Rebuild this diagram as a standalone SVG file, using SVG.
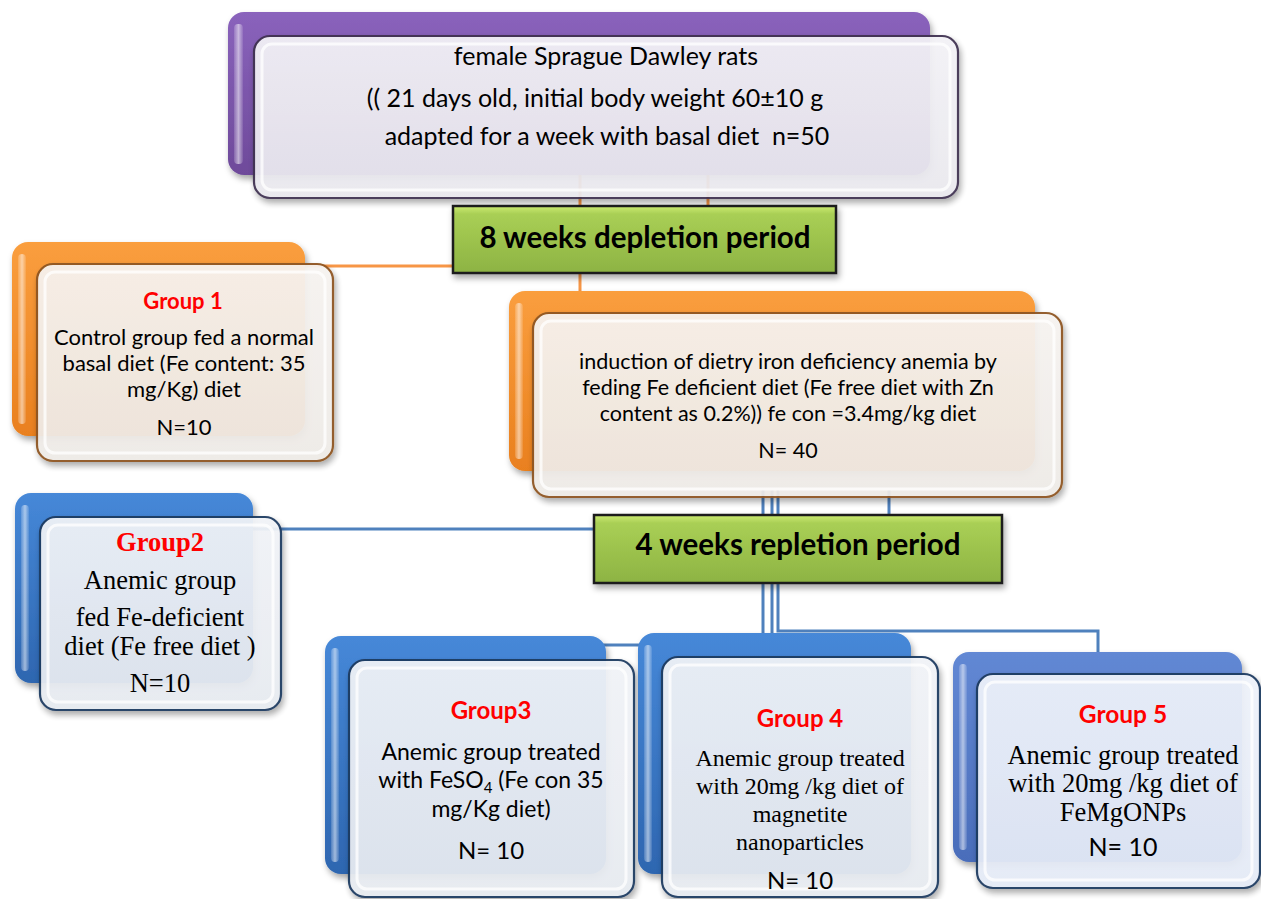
<svg xmlns="http://www.w3.org/2000/svg" width="1261" height="899" viewBox="0 0 1261 899">
<defs>
<linearGradient id="gPurple" x1="0" y1="0" x2="0" y2="1"><stop offset="0" stop-color="#8A63BC"/><stop offset="1" stop-color="#6E4A9A"/></linearGradient>
<linearGradient id="gOrange" x1="0" y1="0" x2="0" y2="1"><stop offset="0" stop-color="#FA9E3E"/><stop offset="1" stop-color="#E9801F"/></linearGradient>
<linearGradient id="gBlue" x1="0" y1="0" x2="0" y2="1"><stop offset="0" stop-color="#4688D8"/><stop offset="1" stop-color="#2E66B0"/></linearGradient>
<linearGradient id="gBlue2" x1="0" y1="0" x2="0" y2="1"><stop offset="0" stop-color="#6288D4"/><stop offset="1" stop-color="#4A6DBA"/></linearGradient>
<linearGradient id="gGreen" x1="0" y1="0" x2="0" y2="1"><stop offset="0" stop-color="#CDEB72"/><stop offset="0.12" stop-color="#A9CF55"/><stop offset="1" stop-color="#8DB343"/></linearGradient>
<linearGradient id="gFrontP" x1="0" y1="0" x2="0" y2="1"><stop offset="0" stop-color="#F3F2F6"/><stop offset="1" stop-color="#E9E8EE"/></linearGradient>
<linearGradient id="gFrontO" x1="0" y1="0" x2="0" y2="1"><stop offset="0" stop-color="#F6F3F0"/><stop offset="1" stop-color="#EEEAE6"/></linearGradient>
<linearGradient id="gFrontB" x1="0" y1="0" x2="0" y2="1"><stop offset="0" stop-color="#F1F3F7"/><stop offset="1" stop-color="#E6EAF0"/></linearGradient>
<linearGradient id="gFrontB2" x1="0" y1="0" x2="0" y2="1"><stop offset="0" stop-color="#EEF2FA"/><stop offset="1" stop-color="#E4EAF6"/></linearGradient>
<linearGradient id="gHi" x1="0" y1="0" x2="1" y2="0"><stop offset="0" stop-color="#FFFFFF" stop-opacity="0.15"/><stop offset="0.5" stop-color="#FFFFFF" stop-opacity="0.55"/><stop offset="1" stop-color="#FFFFFF" stop-opacity="0.1"/></linearGradient>
<filter id="sh" x="-10%" y="-10%" width="125%" height="130%"><feDropShadow dx="2" dy="4" stdDeviation="3" flood-color="#000" flood-opacity="0.35"/></filter>
</defs>
<style>
.back{filter:url(#sh)}
.hi{fill:url(#gHi)}
.front{stroke-width:2.2;filter:url(#sh);opacity:0.94}
.inner{fill:none;stroke:#FFFFFF;stroke-width:3;stroke-opacity:0.75}
.fp{fill:url(#gFrontP);stroke:#3F3151}
.fo{fill:url(#gFrontO);stroke:#8E5520}
.fb{fill:url(#gFrontB);stroke:#1F3A60}
.fb2{fill:url(#gFrontB2);stroke:#1F3A60}
.green{fill:url(#gGreen);stroke:#1A1A1A;stroke-width:2.5;filter:url(#sh)}
.oc{stroke:#F79646;stroke-width:3;fill:none}
.bc{stroke:#4F81BD;stroke-width:3;fill:none}
.s{font-family:Lato,"Liberation Sans",sans-serif;fill:#000;text-anchor:middle}
.r{font-family:"Liberation Serif","DejaVu Serif",serif;fill:#000;text-anchor:middle}
.lab{font-family:Lato,"Liberation Sans",sans-serif;font-weight:bold;fill:#FF0000;text-anchor:middle}
.labr{font-family:"Liberation Serif",serif;font-weight:bold;fill:#FF0000;text-anchor:middle}
.gt{font-family:Lato,"Liberation Sans",sans-serif;font-weight:bold;font-size:29.5px;fill:#000;text-anchor:middle}
</style>

<g id="connectors">
<line class="oc" x1="580" y1="175" x2="580" y2="292"/>
<line class="oc" x1="708" y1="175" x2="708" y2="207"/>
<line class="oc" x1="180" y1="266" x2="454" y2="266"/>
<line class="bc" x1="200" y1="529" x2="595" y2="529"/>
<line class="bc" x1="763" y1="490" x2="763" y2="634"/>
<polyline class="bc" points="772,490 772,645 466,645 466,637"/>
<polyline class="bc" points="778,490 778,631 1098,631 1098,653"/>
<line class="bc" x1="889" y1="490" x2="889" y2="516"/>
</g>

<g id="start">
<rect class="back" x="228" y="12" width="702" height="163" rx="16" fill="url(#gPurple)"/>
<rect class="hi" x="234" y="24" width="9" height="140" rx="4"/>
<rect class="front fp" x="254" y="36" width="704" height="162" rx="16"/>
<rect class="inner" x="262" y="44" width="688" height="146" rx="10"/>
<text class="s" font-size="25" x="606" y="65">female Sprague Dawley rats</text>
<text class="s" font-size="25" x="595" y="107">(( 21 days old, initial body weight 60±10 g</text>
<text class="s" font-size="25" x="607" y="145">adapted for a week with basal diet&#160; n=50</text>
</g>

<g id="depletion">
<rect class="green" x="453" y="206" width="383" height="67"/>
<text class="gt" x="645" y="248">8 weeks depletion period</text>
</g>

<g id="group1">
<rect class="back" x="12" y="242" width="293" height="194" rx="16" fill="url(#gOrange)"/>
<rect class="hi" x="18" y="254" width="8" height="170" rx="4"/>
<rect class="front fo" x="37" y="264" width="296" height="197" rx="16"/>
<rect class="inner" x="45" y="272" width="280" height="181" rx="10"/>
<text class="lab" font-size="22" x="183" y="309">Group 1</text>
<text class="s" font-size="22" x="184" y="345">Control group fed a normal</text>
<text class="s" font-size="22" x="184" y="371">basal diet (Fe content: 35</text>
<text class="s" font-size="22" x="184" y="397">mg/Kg) diet</text>
<text class="s" font-size="22" x="184" y="435">N=10</text>
</g>

<g id="induction">
<rect class="back" x="509" y="291" width="526" height="180" rx="16" fill="url(#gOrange)"/>
<rect class="hi" x="515" y="303" width="8" height="156" rx="4"/>
<rect class="front fo" x="533" y="313" width="529" height="184" rx="16"/>
<rect class="inner" x="541" y="321" width="513" height="168" rx="10"/>
<text class="s" font-size="21.5" x="788" y="369">induction of dietry iron deficiency anemia by</text>
<text class="s" font-size="21.5" x="788" y="395">feding Fe deficient diet (Fe free diet with Zn</text>
<text class="s" font-size="21.5" x="788" y="421">content as 0.2%)) fe con =3.4mg/kg diet</text>
<text class="s" font-size="21.5" x="788" y="458">N= 40</text>
</g>

<g id="repletion">
<rect class="green" x="594" y="515" width="408" height="68"/>
<text class="gt" x="798" y="555">4 weeks repletion period</text>
</g>

<g id="group2">
<rect class="back" x="15" y="493" width="238" height="190" rx="16" fill="url(#gBlue)"/>
<rect class="hi" x="21" y="505" width="8" height="166" rx="4"/>
<rect class="front fb" x="40" y="517" width="241" height="193" rx="16"/>
<rect class="inner" x="48" y="525" width="225" height="177" rx="10"/>
<text class="labr" font-size="26.5" x="160" y="551">Group2</text>
<text class="r" font-size="26.5" x="160" y="589">Anemic group</text>
<text class="r" font-size="26.5" x="160" y="626">fed Fe-deficient</text>
<text class="r" font-size="26.5" x="160" y="655">diet (Fe free diet )</text>
<text class="r" font-size="26.5" x="160" y="692">N=10</text>
</g>

<g id="group3">
<rect class="back" x="325" y="636" width="281" height="238" rx="16" fill="url(#gBlue)"/>
<rect class="hi" x="331" y="648" width="8" height="214" rx="4"/>
<rect class="front fb" x="349" y="660" width="285" height="237" rx="16"/>
<rect class="inner" x="357" y="668" width="269" height="221" rx="10"/>
<text class="lab" font-size="24" x="491" y="719">Group3</text>
<text class="s" font-size="23" x="491" y="760">Anemic group treated</text>
<text class="s" font-size="23" x="491" y="788">with FeSO<tspan font-size="15" dy="5">4</tspan><tspan dy="-5"> (Fe con 35</tspan></text>
<text class="s" font-size="23" x="491" y="817">mg/Kg diet)</text>
<text class="s" font-size="24" x="491" y="859">N= 10</text>
</g>

<g id="group4">
<rect class="back" x="638" y="633" width="273" height="241" rx="16" fill="url(#gBlue)"/>
<rect class="hi" x="644" y="645" width="8" height="217" rx="4"/>
<rect class="front fb" x="662" y="657" width="276" height="240" rx="16"/>
<rect class="inner" x="670" y="665" width="260" height="224" rx="10"/>
<text class="lab" font-size="24" x="800" y="727">Group 4</text>
<text class="r" font-size="24" x="800" y="766">Anemic group treated</text>
<text class="r" font-size="24" x="800" y="794">with 20mg /kg diet of</text>
<text class="r" font-size="24" x="800" y="822">magnetite</text>
<text class="r" font-size="24" x="800" y="850">nanoparticles</text>
<text class="s" font-size="24" x="800" y="889">N= 10</text>
</g>

<g id="group5">
<rect class="back" x="953" y="652" width="289" height="210" rx="16" fill="url(#gBlue2)"/>
<rect class="hi" x="959" y="664" width="8" height="186" rx="4"/>
<rect class="front fb2" x="977" y="674" width="283" height="214" rx="16"/>
<rect class="inner" x="985" y="682" width="267" height="198" rx="10"/>
<text class="lab" font-size="24.5" x="1123" y="723">Group 5</text>
<text class="r" font-size="26.5" x="1123" y="764">Anemic group treated</text>
<text class="r" font-size="26.5" x="1123" y="792">with 20mg /kg diet of</text>
<text class="r" font-size="26.5" x="1123" y="821">FeMgONPs</text>
<text class="s" font-size="25" x="1123" y="856">N= 10</text>
</g>
</svg>
